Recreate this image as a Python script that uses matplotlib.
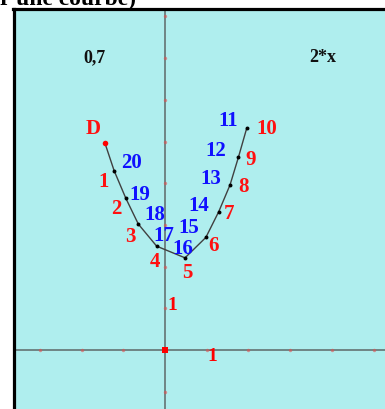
import numpy as np
import matplotlib
matplotlib.use('Agg')
import matplotlib.pyplot as plt

# points of the path, D then 1..10 (11..20 come back over the same points)
pts_x = [-1.44, -1.22, -0.94, -0.64, -0.20, 0.48, 0.98, 1.29, 1.56, 1.76, 1.96]
pts_y = [4.96, 4.30, 3.64, 3.02, 2.49, 2.21, 2.70, 3.32, 3.96, 4.62, 5.32]
red_labels = ['D', '1', '2', '3', '4', '5', '6', '7', '8', '9', '10']
blue_labels = ['20', '19', '18', '17', '16', '15', '14', '13', '12', '11']
tick_vals = [-3, -2, -1, 0, 1, 2, 3, 4, 5, 6, 7, 8]
param_text = '0,7'
func_text = '2*x'

# label offsets in pixels (dx right, dy down)
red_off = [(-12, -15), (-11, 10), (-9, 10), (-8, 12), (-2, 15), (2, 14),
           (8, 8), (10, 1), (13, 1), (12, 2), (20, 0)]
blue_off = [(17, -9), (14, -4), (17, -10), (7, -11), (-2, -10), (-17, -10),
            (-20, -7), (-19, -7), (-23, -7), (-19, -8)]

W, H = 385, 410
unit = 41.7
ox, oy = 165, 351   # origin in pixels
left_px, top_px = 13.5, 9.5

fig = plt.figure(figsize=(W / 100, H / 100), dpi=100)
fig.patch.set_facecolor('white')
ax = fig.add_axes([left_px / W, 0, (W - left_px) / W, (H - top_px) / H])
ax.set_facecolor('#afeeee')
ax.set_xlim((left_px - ox) / unit, (W - ox) / unit)
ax.set_ylim((oy - H) / unit, (oy - top_px) / unit)
ax.set_xticks([])
ax.set_yticks([])
for s in ['right', 'bottom']:
    ax.spines[s].set_visible(False)
for s in ['left', 'top']:
    ax.spines[s].set_linewidth(2.3)
    ax.spines[s].set_color('black')

serif = ['Liberation Serif', 'DejaVu Serif']

# axes lines
ax.axhline(0, color='#6a7c7d', lw=1.3, zorder=1)
ax.axvline(0, color='#6a7c7d', lw=1.3, zorder=1)
tv = np.array(tick_vals, dtype=float)
ax.scatter(tv[tv != 0], np.zeros((tv != 0).sum()), s=6, color='#e05050', alpha=0.6, lw=0, zorder=2)
ax.scatter(np.zeros((tv != 0).sum()), tv[tv != 0], s=6, color='#e05050', alpha=0.6, lw=0, zorder=2)
ax.scatter([0], [0], marker='s', s=24, color='red', lw=0, zorder=3)

ax.annotate('1', (1, 0), xytext=(6, -6), textcoords='offset pixels', ha='center', va='center',
            color='red', fontsize=14, fontweight='bold', family=serif)
ax.annotate('1', (0, 1), xytext=(7, 4), textcoords='offset pixels', ha='center', va='center',
            color='red', fontsize=14, fontweight='bold', family=serif)

# the path
ax.plot(pts_x, pts_y, color='#404040', lw=1.0, zorder=4)
ax.scatter(pts_x[1:], pts_y[1:], s=8, color='black', lw=0, zorder=5)
ax.scatter(pts_x[:1], pts_y[:1], s=16, color='red', lw=0, zorder=5)

for x, y, lab, (dx, dy) in zip(pts_x, pts_y, red_labels, red_off):
    ax.annotate(lab, (x, y), xytext=(dx, -dy), textcoords='offset pixels', ha='center', va='center',
                color='#ff1010', fontsize=15, fontweight='bold', family=serif, zorder=6)
for x, y, lab, (dx, dy) in zip(pts_x[1:], pts_y[1:], blue_labels, blue_off):
    ax.annotate(lab, (x, y), xytext=(dx, -dy), textcoords='offset pixels', ha='center', va='center',
                color='#1010ff', fontsize=15, fontweight='bold', family=serif, zorder=6)

fig.text(94 / W, 1 - 58 / H, param_text, ha='center', va='center', fontsize=13,
         fontweight='bold', family=serif, color='#111111')
fig.text(323 / W, 1 - 58 / H, func_text, ha='center', va='center', fontsize=13,
         fontweight='bold', family=serif, color='#111111')

# cut-off heading above the frame
fig.text(0.0, 1 - 5.0 / H, 'r une courbe)', ha='left', va='baseline', fontsize=17,
         fontweight='bold', family=serif, color='black')

fig.savefig('out.png', dpi=100)
